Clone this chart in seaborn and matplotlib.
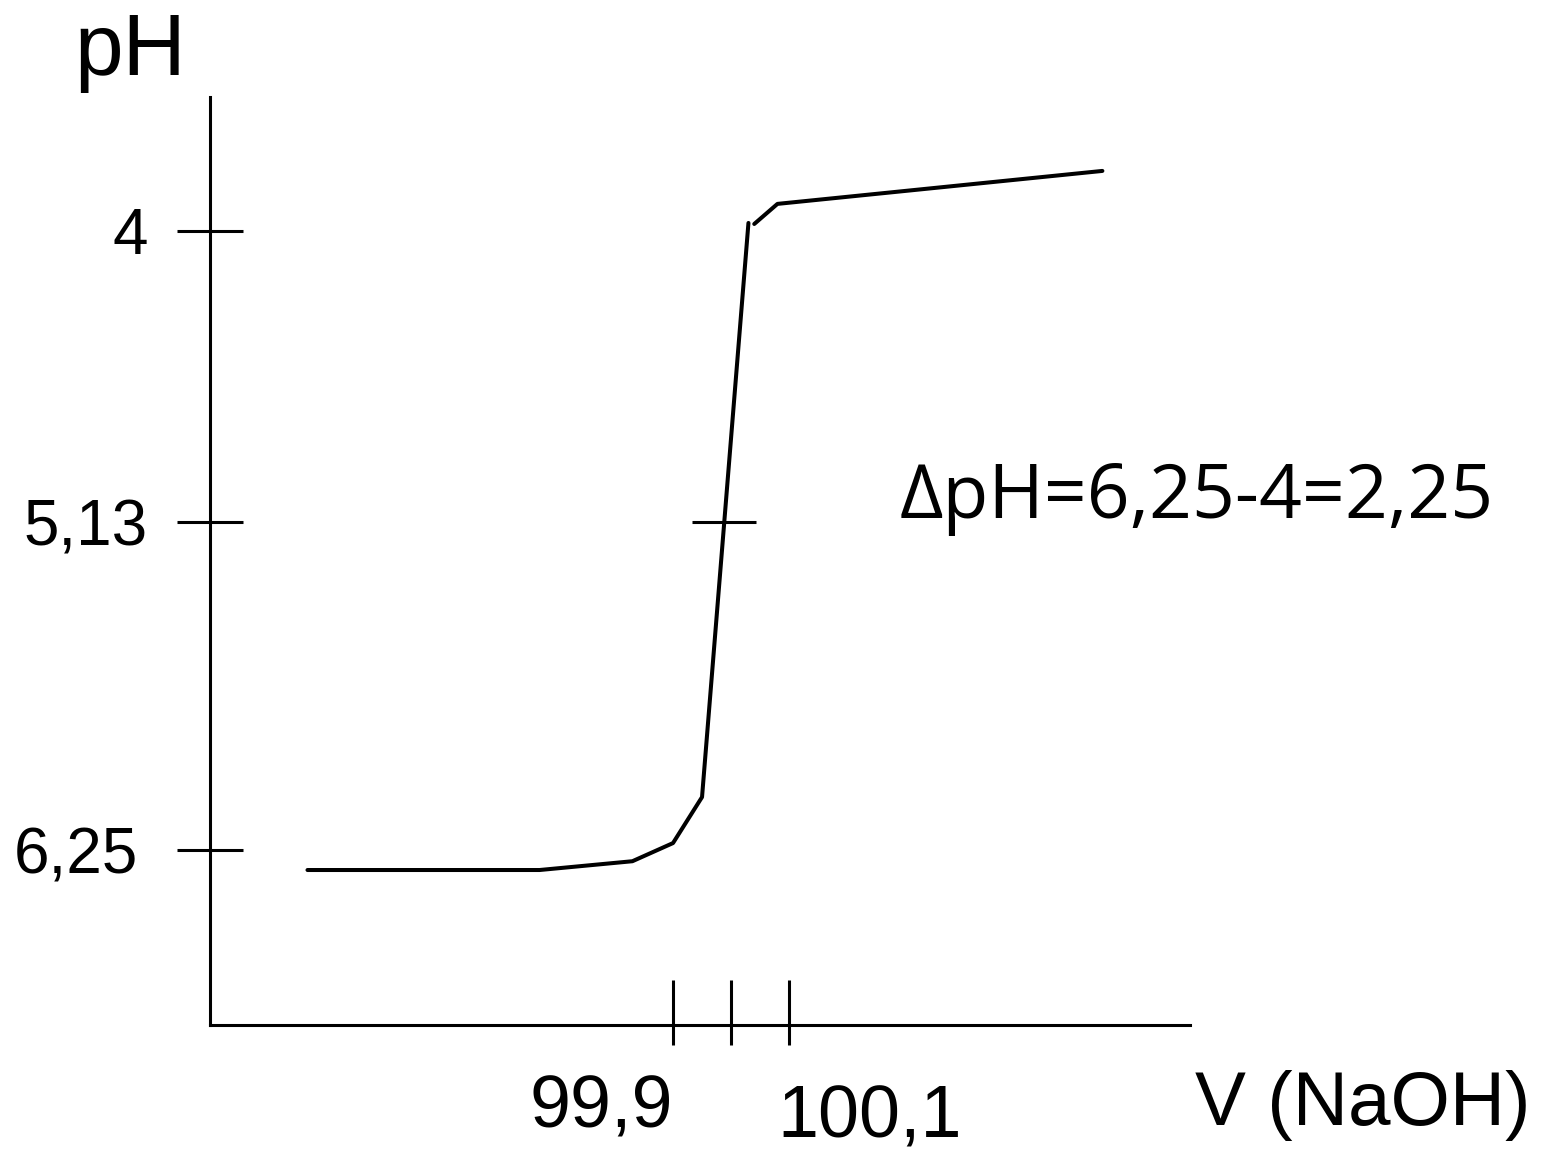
import numpy as np
import pandas as pd
import seaborn as sns
import matplotlib.pyplot as plt
import matplotlib.transforms as mtransforms

# titration curve, two pieces (small break near the top)
vol_low = [99.27, 99.67, 99.83, 99.90, 99.95, 100.03]
ph_low = [6.318, 6.318, 6.288, 6.226, 6.069, 3.969]
vol_high = [100.04, 100.08, 100.64]
ph_high = [3.973, 3.895, 3.767]

ph_ticks = [4, 5.13, 6.25]
ph_labels = ["4", "5,13", "6,25"]
vol_ticks = [99.9, 100.0, 100.1]
vol_labels = {99.9: "99,9", 100.1: "100,1"}
ph_mid = 5.13

df = pd.DataFrame({
    "V": vol_low + vol_high,
    "pH": ph_low + ph_high,
    "seg": ["a"] * len(vol_low) + ["b"] * len(vol_high),
})

sns.set_theme(style="white")
plt.rcParams["font.family"] = ["Liberation Sans", "DejaVu Sans"]
plt.rcParams["text.color"] = "black"
plt.rcParams["ytick.color"] = "black"
plt.rcParams["ytick.labelcolor"] = "black"

# tick spacing in the drawing is not quite even, so use a piecewise scale
anch_ph = np.array([0, 4, 5.13, 6.25, 14])
anch_pos = np.array([231 - 4 * 257.5, 231, 522, 850, 850 + 7.75 * 292.9])


def fwd(y):
    return np.interp(y, anch_ph, anch_pos)


def inv(p):
    return np.interp(p, anch_pos, anch_ph)


fig = plt.figure(figsize=(15.62, 11.56), dpi=100)
ax = fig.add_axes([210 / 1562, 1 - 1025 / 1156, 980 / 1562, 928 / 1156])
ax.set_yscale("function", functions=(fwd, inv))

sns.lineplot(data=df, x="V", y="pH", units="seg", estimator=None,
             color="black", linewidth=2.9, ax=ax, legend=False)

ax.set_xlim(99.102, 100.791)
ax.set_ylim(6.847, 3.480)

for s in ["top", "right"]:
    ax.spines[s].set_visible(False)
for s in ["left", "bottom"]:
    ax.spines[s].set_color("black")
    ax.spines[s].set_linewidth(2.2)

ax.set_xlabel("")
ax.set_ylabel("")
ax.set_yticks(ph_ticks)
ax.set_yticklabels(ph_labels)
ax.yaxis.set_minor_locator(plt.NullLocator())
ax.tick_params(axis="y", direction="inout", length=47, width=2.2,
               color="black", labelsize=46, pad=23, left=True)
ax.set_xticks([])

# nudge the y labels a little, they are not lined up in the drawing
for lbl, dx in zip(ax.get_yticklabels(), [3, 2, -7]):
    lbl.set_transform(lbl.get_transform()
                      + mtransforms.ScaledTranslation(dx / 100, 0, fig.dpi_scale_trans))

# x tick marks, sticking up more than down
xt = ax.get_xaxis_transform()
ax.vlines(vol_ticks, -0.0216, 0.0485, transform=xt,
          color="black", linewidth=2.2, clip_on=False)
ax.text(99.9, -0.110, vol_labels[99.9], ha="right", va="baseline",
        fontsize=53, transform=xt)
ax.text(100.1, -0.121, vol_labels[100.1], ha="left", va="baseline",
        fontsize=53,
        transform=xt + mtransforms.ScaledTranslation(-0.12, 0, fig.dpi_scale_trans))

# mark where the curve crosses the middle pH
xc = np.interp(ph_mid, ph_low[::-1], vol_low[::-1])
ax.hlines(ph_mid, xc - 0.053, xc + 0.057, color="black", linewidth=2.2)

fig.text(74 / 1562, 1 - 75 / 1156, "pH", fontsize=63, ha="left", va="baseline")
fig.text(1195 / 1562, 1 - 1125 / 1156, "V (NaOH)", fontsize=55,
         ha="left", va="baseline")
fig.text(900 / 1562, 1 - 518 / 1156, "ΔpH=6,25-4=2,25", fontsize=54,
         ha="left", va="baseline", family=["Open Sans", "DejaVu Sans"])

fig.savefig("out.png", dpi=100, facecolor="white")
